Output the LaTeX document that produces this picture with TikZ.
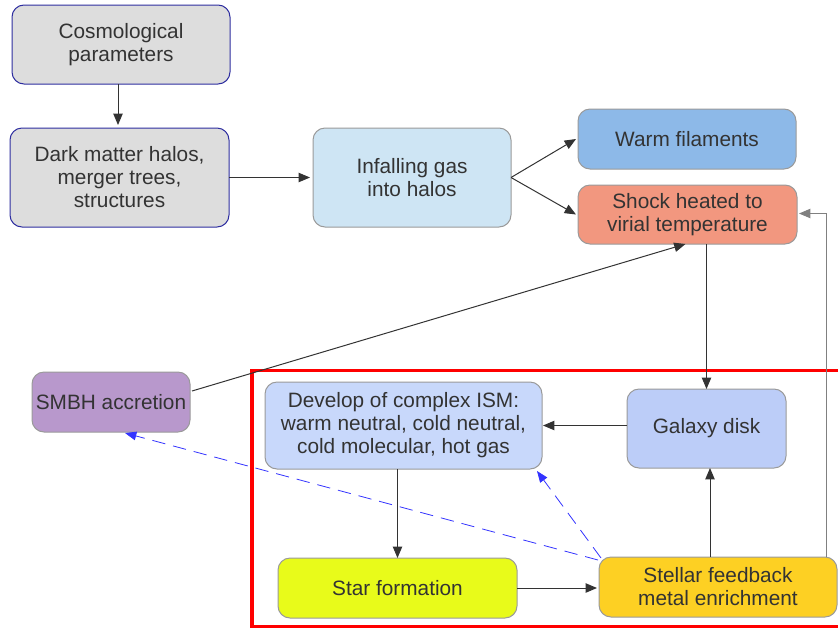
\documentclass[tikz,border=0pt]{standalone}
\usepackage{fontspec}
\setmainfont{Liberation Sans}
\usetikzlibrary{arrows.meta,calc}

\definecolor{txtgray}{HTML}{333333}
\definecolor{navyline}{HTML}{2E2EA0}
\definecolor{boxline}{HTML}{9A9A9A}
\definecolor{cosmofill}{HTML}{DDDDDD}
\definecolor{infallfill}{HTML}{CEE5F4}
\definecolor{warmfill}{HTML}{8DB9E8}
\definecolor{shockfill}{HTML}{F2977F}
\definecolor{smbhfill}{HTML}{B898CC}
\definecolor{ismfill}{HTML}{C8D8FB}
\definecolor{galfill}{HTML}{BCCDF8}
\definecolor{starfill}{HTML}{E8FB1A}
\definecolor{fbfill}{HTML}{FDD023}
\definecolor{dashblue}{HTML}{3333FF}
\definecolor{framered}{HTML}{FF0000}

\tikzset{every picture/.style={line width=0.75pt}}
\tikzset{
  blk/.style={draw=boxline, rounded corners=9pt, inner sep=0pt, outer sep=0pt, align=center,
    text=txtgray, font=\fontsize{15.6}{17.25}\selectfont},
  bsize/.style 2 args={minimum width=#1*0.75pt, minimum height=#2*0.75pt},
  arr/.style={draw=txtgray, -{Triangle[length=8.5pt,width=7pt]}},
  fbarr/.style={draw=dashblue, line width=0.6pt, dash pattern={on 10pt off 6pt},
    -{Triangle[length=8.5pt,width=6.5pt]}}
}

\begin{document}
\begin{tikzpicture}[x=0.75pt,y=0.75pt,yscale=-1,xscale=1]
	\useasboundingbox (0,0) rectangle (838,629);
	\clip (0,0) rectangle (838,629);

	%Shape: Rectangle [id:red frame]
	\draw [framered, line width=2.4pt] (252,370.5) rectangle (860,626.5);

	% Text Node
	\node [blk, draw=navyline, fill=cosmofill, bsize={218}{79}] (cosmo) at (121,44.5) {Cosmological\\parameters};
	% Text Node
	\node [blk, draw=navyline, fill=cosmofill, bsize={219}{99}] (halos) at (119.5,177.5) {Dark matter halos,\\merger trees,\\structures};
	% Text Node
	\node [blk, fill=infallfill, bsize={198}{99}] (infall) at (412,177.5) {Infalling gas\\into halos};
	% Text Node
	\node [blk, fill=warmfill, bsize={218}{60}] (warm) at (687,139) {Warm filaments};
	% Text Node
	\node [blk, fill=shockfill, bsize={219}{59}] (shock) at (687.5,214.5) {Shock heated to\\virial temperature};
	% Text Node
	\node [blk, fill=smbhfill, bsize={158}{60}] (smbh) at (111,402) {SMBH accretion};
	% Text Node
	\node [blk, fill=ismfill, bsize={277}{87}] (ism) at (403.5,425.5) {Develop of complex ISM:\\warm neutral, cold neutral,\\cold molecular, hot gas};
	% Text Node
	\node [blk, fill=galfill, bsize={159}{79}] (disk) at (706.5,428.5) {Galaxy disk};
	% Text Node
	\node [blk, fill=starfill, bsize={239}{60}] (starform) at (397.5,588) {Star formation};
	% Text Node
	\node [blk, fill=fbfill, bsize={238}{60}] (feedback) at (718,587) {Stellar feedback\\metal enrichment};

	%Straight Lines [id:cosmo to halos]
	\draw [arr] ($(cosmo.south)+(-3,0)$) -- ($(halos.north)+(-1.5,-3)$);
	%Straight Lines [id:halos to infall]
	\draw [arr] (halos.east) -- ($(infall.west)+(-3,0)$);
	%Straight Lines [id:infall to warm]
	\draw [arr] (infall.east) -- ($(warm.west)+(-2,0)$);
	%Straight Lines [id:infall to shock]
	\draw [arr] (infall.east) -- ($(shock.west)+(-2,0)$);
	%Straight Lines [id:shock to disk]
	\draw [arr] (shock.south -| disk.north) -- (disk.north);
	%Straight Lines [id:smbh to shock]
	\draw [arr] ($(smbh.east)+(2,-11)$) -- ($(shock.south)+(-2,0)$);
	%Straight Lines [id:disk to ism]
	\draw [arr] (disk.west |- ism.east) -- ($(ism.east)+(1,0)$);
	%Straight Lines [id:ism to star]
	\draw [arr] (ism.south -| starform.north) -- (starform.north);
	%Straight Lines [id:star to feedback]
	\draw [arr] (starform.east) -- ($(starform.east -| feedback.west)+(-2,0)$);
	%Straight Lines [id:feedback to disk]
	\draw [arr] ($(feedback.north)+(-8,0)$) -- ($(disk.south)+(3.5,0)$);
	%Straight Lines [id:feedback to shock]
	\draw [arr, draw=gray] ($(feedback.north east)+(-11,0)$) |- ($(shock.east)+(2,-1)$);
	%Straight Lines [id:feedback to smbh]
	\draw [fbarr] ($(feedback.north west)+(-1,3)$) -- ($(smbh.south)+(14,1)$);
	%Straight Lines [id:feedback to ism]
	\draw [fbarr] ($(feedback.north west)+(2,1)$) -- ($(ism.south east)+(-5,2)$);
\end{tikzpicture}
\end{document}
